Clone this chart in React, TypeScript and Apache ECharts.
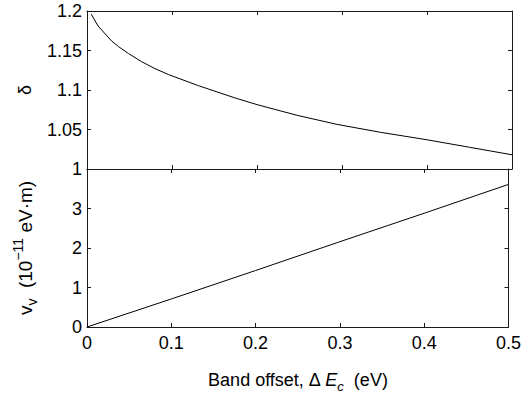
import React, { useEffect, useRef } from "react";
import * as echarts from "echarts";

const deltaX = [0.005, 0.013, 0.029, 0.037, 0.049, 0.064, 0.08, 0.096, 0.131, 0.174, 0.2, 0.247, 0.294, 0.345, 0.4, 0.45, 0.5];
const deltaY = [1.196, 1.181, 1.162, 1.155, 1.146, 1.136, 1.127, 1.1195, 1.1055, 1.09, 1.0815, 1.068, 1.0565, 1.0465, 1.037, 1.0275, 1.018];
const vvX = [0, 0.1, 0.2, 0.3, 0.4, 0.5];
const vvY = [0, 0.71, 1.43, 2.16, 2.88, 3.61];

const FONT = "Liberation Sans";
const AX = "#1a1a1a";

export default function App() {
  const ref = useRef<HTMLDivElement>(null);
  useEffect(() => {
    document.body.style.margin = "0";
    const chart = echarts.init(ref.current!, null, { renderer: "svg" });
    const lineStyle = { color: AX, width: 1 };
    const baseX = (gridIndex: number, position: string, showLabel: boolean, extra: any = {}) => ({
      type: "value",
      gridIndex,
      position,
      min: 0,
      max: 0.5,
      interval: 0.1,
      axisLine: { show: true, onZero: false, lineStyle },
      axisTick: { show: true, inside: true, length: 4, lineStyle },
      axisLabel: { show: showLabel, color: "#000", fontFamily: FONT, fontSize: 18, margin: 7 },
      splitLine: { show: false },
      ...extra,
    });
    const baseY = (gridIndex: number, position: string, showLabel: boolean, min: number, max: number, interval: number, extra: any = {}) => ({
      type: "value",
      gridIndex,
      position,
      min,
      max,
      interval,
      axisLine: { show: true, onZero: false, lineStyle },
      axisTick: { show: true, inside: true, length: 4, lineStyle },
      axisLabel: { show: showLabel, color: "#000", fontFamily: FONT, fontSize: 18, margin: 5 },
      splitLine: { show: false },
      ...extra,
    });
    chart.setOption({
      animation: false,
      backgroundColor: "#fff",
      grid: [
        { left: 87, top: 11, width: 425, height: 158 },
        { left: 87, top: 169, width: 425, height: 158 },
      ],
      xAxis: [
        baseX(0, "bottom", false),
        baseX(0, "top", false),
        baseX(1, "bottom", true, {
          name: "{t|Band offset, Δ }{i|E}{sub|c}{t|  (eV)}",
          nameLocation: "middle",
          nameGap: 40,
          nameTextStyle: {
            color: "#000",
            fontFamily: FONT,
            fontSize: 18,
            rich: {
              t: { fontFamily: FONT, fontSize: 18, color: "#000", lineHeight: 26 },
              i: { fontFamily: FONT, fontSize: 18, fontStyle: "italic", color: "#000", lineHeight: 26 },
              sub: { fontFamily: FONT, fontSize: 13, fontStyle: "italic", color: "#000", verticalAlign: "bottom", lineHeight: 26 },
            },
          },
        }),
        baseX(1, "top", false),
      ],
      yAxis: [
        baseY(0, "left", true, 1, 1.2, 0.05, {
          name: "δ",
          nameLocation: "middle",
          nameGap: 53,
          nameRotate: 90,
          nameTextStyle: { color: "#000", fontFamily: FONT, fontSize: 18 },
        }),
        baseY(0, "right", false, 1, 1.2, 0.05),
        baseY(1, "left", true, 0, 4, 1, {
          axisLabel: { show: true, color: "#000", fontFamily: FONT, fontSize: 18, margin: 5, showMaxLabel: false },
          name: "{t|v}{sub|v}{t|  (10}{sup|−11}{t| eV·m)}",
          nameLocation: "middle",
          nameGap: 48,
          nameRotate: 90,
          nameTextStyle: {
            color: "#000",
            fontFamily: FONT,
            fontSize: 19,
            rich: {
              t: { fontFamily: FONT, fontSize: 19, color: "#000", lineHeight: 28 },
              sub: { fontFamily: FONT, fontSize: 14, color: "#000", verticalAlign: "bottom", lineHeight: 28 },
              sup: { fontFamily: FONT, fontSize: 14, color: "#000", verticalAlign: "top", lineHeight: 28 },
            },
          },
        }),
        baseY(1, "right", false, 0, 4, 1),
      ],
      series: [
        {
          type: "line",
          xAxisIndex: 0,
          yAxisIndex: 0,
          data: deltaX.map((x, i) => [x, deltaY[i]]),
          showSymbol: false,
          smooth: false,
          lineStyle: { color: "#000", width: 1 },
        },
        {
          type: "line",
          xAxisIndex: 2,
          yAxisIndex: 2,
          data: vvX.map((x, i) => [x, vvY[i]]),
          showSymbol: false,
          lineStyle: { color: "#000", width: 1 },
        },
      ],
    });
    return () => chart.dispose();
  }, []);
  return <div ref={ref} style={{ width: 524, height: 401 }} />;
}
